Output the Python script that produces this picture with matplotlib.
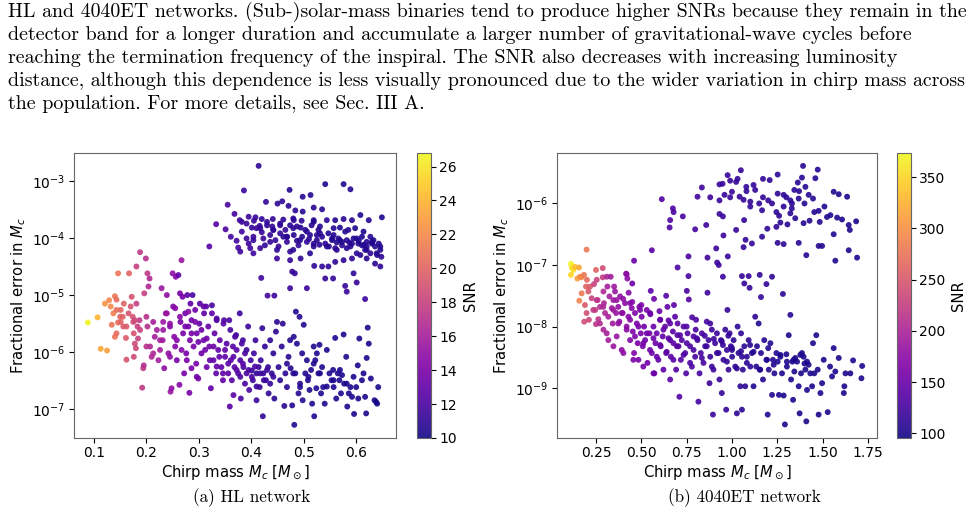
import numpy as np
import matplotlib
matplotlib.use("Agg")
import matplotlib.pyplot as plt
from matplotlib.ticker import NullLocator, MultipleLocator

# ---- paper text around the figure ----
para_lines = [
    "HL and 4040ET networks. (Sub-)solar-mass binaries tend to produce higher SNRs because they remain in the",
    "detector band for a longer duration and accumulate a larger number of gravitational-wave cycles before",
    "reaching the termination frequency of the inspiral. The SNR also decreases with increasing luminosity",
    "distance, although this dependence is less visually pronounced due to the wider variation in chirp mass across",
    "the population. For more details, see Sec. III A.",
]
captions = ["(a) HL network", "(b) 4040ET network"]

# ---- HL network: high-error group (chirp mass, log10 frac. error, SNR) ----
hl_up_mass = [0.414, 0.386, 0.473, 0.541, 0.576, 0.589, 0.498, 0.513, 0.355, 0.428,
              0.450, 0.459, 0.471, 0.484, 0.498, 0.519, 0.535, 0.368, 0.378, 0.395,
              0.408, 0.420, 0.441, 0.461, 0.481, 0.496, 0.519, 0.544, 0.560, 0.576,
              0.592, 0.608, 0.624, 0.649, 0.333, 0.351, 0.361, 0.372, 0.375, 0.379,
              0.391, 0.398, 0.404, 0.410, 0.416, 0.423, 0.426, 0.436, 0.442, 0.446,
              0.452, 0.449, 0.461, 0.465, 0.468, 0.474, 0.481, 0.487, 0.490, 0.497,
              0.503, 0.506, 0.512, 0.519, 0.525, 0.528, 0.535, 0.541, 0.547, 0.554,
              0.560, 0.566, 0.573, 0.579, 0.582, 0.589, 0.595, 0.598, 0.604, 0.611,
              0.617, 0.620, 0.627, 0.633, 0.636, 0.640, 0.643, 0.646, 0.648, 0.646,
              0.636, 0.620, 0.608, 0.592, 0.576, 0.560, 0.547, 0.535, 0.520, 0.541,
              0.556, 0.595, 0.601, 0.582, 0.579, 0.617, 0.506, 0.474, 0.478, 0.483,
              0.419, 0.320, 0.431, 0.444, 0.474, 0.494, 0.417, 0.404, 0.395, 0.382,
              0.401, 0.430, 0.455, 0.474, 0.494, 0.515, 0.531, 0.557, 0.569, 0.585,
              0.614, 0.627, 0.557, 0.525, 0.468, 0.436, 0.569, 0.601, 0.620, 0.587,
              0.605, 0.615, 0.630, 0.563, 0.548, 0.530, 0.510, 0.487, 0.455, 0.440,
              0.420, 0.405, 0.430, 0.442, 0.455, 0.468, 0.480, 0.493, 0.506, 0.519,
              0.531, 0.544, 0.554, 0.563, 0.573, 0.582, 0.592, 0.601, 0.611, 0.620,
              0.630, 0.639, 0.646, 0.417, 0.404, 0.391, 0.382, 0.449, 0.480, 0.512,
              0.480, 0.519]
hl_up_logerr = [-2.74, -3.17, -3.16, -3.06, -3.06, -3.15, -3.28, -3.25, -3.42, -3.37,
                -3.40, -3.36, -3.44, -3.52, -3.54, -3.47, -3.50, -3.58, -3.69, -3.63,
                -3.64, -3.67, -3.67, -3.68, -3.69, -3.70, -3.69, -3.69, -3.69, -3.67,
                -3.69, -3.60, -3.69, -3.64, -3.76, -3.85, -3.98, -4.05, -4.17, -4.24,
                -4.01, -4.18, -4.04, -3.83, -3.79, -4.01, -4.13, -3.95, -3.86, -4.04,
                -4.15, -4.36, -3.98, -3.86, -4.07, -4.24, -3.95, -3.80, -4.13, -3.98,
                -3.86, -4.07, -3.95, -4.15, -4.04, -3.86, -3.98, -4.10, -3.92, -4.04,
                -4.18, -4.01, -4.13, -3.89, -4.04, -4.15, -4.01, -3.83, -4.10, -3.98,
                -4.21, -4.07, -4.27, -4.04, -4.15, -4.30, -4.10, -4.21, -4.33, -4.50,
                -4.45, -4.36, -4.30, -4.36, -4.39, -4.42, -4.50, -4.50, -4.49, -4.71,
                -4.71, -4.62, -4.78, -4.94, -4.84, -5.07, -4.88, -4.88, -4.59, -4.62,
                -4.70, -4.15, -5.01, -5.01, -4.39, -4.36, -4.18, -4.27, -4.10, -3.72,
                -3.82, -3.78, -3.75, -3.78, -3.82, -3.78, -3.80, -3.83, -3.82, -3.86,
                -3.89, -3.98, -3.95, -3.95, -3.98, -4.07, -4.04, -4.01, -4.15, -4.08,
                -4.05, -4.12, -4.10, -4.08, -4.15, -4.12, -4.02, -4.05, -3.92, -3.80,
                -3.90, -3.70, -3.72, -3.86, -3.78, -3.98, -3.83, -4.04, -3.89, -4.10,
                -3.92, -4.15, -4.01, -4.21, -4.07, -4.18, -4.10, -4.27, -4.13, -4.21,
                -4.07, -4.27, -4.15, -3.83, -3.98, -3.75, -3.89, -4.21, -4.21, -4.27,
                -3.66, -3.72]
hl_up_snr = [11.0, 11.3, 10.6, 10.5, 10.4, 10.6, 10.8, 10.7, 12.0, 11.2,
             10.9, 11.1, 10.8, 10.9, 10.7, 10.8, 10.6, 11.8, 11.5, 11.4,
             11.3, 11.0, 11.2, 10.9, 11.1, 10.8, 10.7, 10.9, 10.6, 10.8,
             10.7, 10.5, 10.6, 10.4, 12.3, 12.0, 11.8, 11.6, 11.9, 11.5,
             11.4, 11.6, 11.2, 11.3, 11.1, 11.4, 11.0, 11.2, 10.9, 11.1,
             11.3, 11.5, 10.9, 11.0, 11.2, 11.0, 10.8, 10.9, 11.1, 10.7,
             10.8, 11.0, 10.6, 10.9, 10.7, 10.6, 10.8, 10.9, 10.5, 10.7,
             10.9, 10.6, 10.8, 10.5, 10.6, 10.8, 10.5, 10.4, 10.7, 10.5,
             10.8, 10.6, 10.9, 10.4, 10.6, 10.8, 10.5, 10.7, 10.9, 11.0,
             10.9, 10.8, 10.7, 10.9, 10.8, 10.9, 11.0, 11.1, 11.0, 11.2,
             11.1, 11.0, 11.2, 11.3, 11.2, 11.4, 11.3, 11.4, 11.2, 11.1,
             11.6, 12.5, 11.8, 11.6, 11.3, 11.1, 11.4, 11.6, 11.5, 11.4,
             11.2, 11.0, 10.9, 10.8, 10.7, 10.8, 10.6, 10.7, 10.5, 10.6,
             10.4, 10.6, 10.7, 10.8, 10.9, 11.1, 10.7, 10.5, 10.7, 10.6,
             10.5, 10.7, 10.4, 10.6, 10.8, 10.7, 10.9, 10.8, 11.0, 11.1,
             11.2, 11.3, 11.0, 10.9, 11.1, 10.8, 10.9, 10.7, 10.8, 10.6,
             10.8, 10.7, 10.6, 10.8, 10.5, 10.7, 10.6, 10.8, 10.5, 10.7,
             10.4, 10.6, 10.5, 11.2, 11.4, 11.5, 11.6, 11.0, 10.9, 10.7,
             10.8, 10.6]

# ---- HL network: main group ----
hl_low_mass = [0.0885, 0.107, 0.113, 0.125, 0.121, 0.129, 0.132, 0.137, 0.134, 0.140,
               0.143, 0.146, 0.140, 0.143, 0.146, 0.151, 0.151, 0.155, 0.157, 0.162,
               0.161, 0.162, 0.167, 0.170, 0.172, 0.174, 0.175, 0.176, 0.178, 0.176,
               0.180, 0.181, 0.181, 0.183, 0.188, 0.184, 0.187, 0.192, 0.194, 0.195,
               0.196, 0.199, 0.202, 0.202, 0.200, 0.204, 0.206, 0.207, 0.210, 0.213,
               0.216, 0.220, 0.223, 0.226, 0.229, 0.231, 0.232, 0.234, 0.237, 0.239,
               0.242, 0.245, 0.246, 0.248, 0.250, 0.251, 0.253, 0.255, 0.256, 0.258,
               0.261, 0.263, 0.264, 0.265, 0.267, 0.269, 0.270, 0.272, 0.274, 0.276,
               0.278, 0.280, 0.282, 0.283, 0.284, 0.286, 0.288, 0.290, 0.293, 0.295,
               0.296, 0.299, 0.301, 0.302, 0.305, 0.309, 0.310, 0.314, 0.315, 0.318,
               0.320, 0.323, 0.325, 0.328, 0.330, 0.333, 0.334, 0.337, 0.340, 0.343,
               0.346, 0.348, 0.350, 0.353, 0.356, 0.358, 0.359, 0.361, 0.365, 0.366,
               0.368, 0.371, 0.372, 0.375, 0.378, 0.379, 0.380, 0.384, 0.385, 0.388,
               0.391, 0.394, 0.396, 0.399, 0.401, 0.403, 0.405, 0.408, 0.410, 0.410,
               0.414, 0.416, 0.418, 0.421, 0.423, 0.422, 0.426, 0.428, 0.432, 0.433,
               0.436, 0.439, 0.442, 0.444, 0.447, 0.449, 0.452, 0.455, 0.458, 0.460,
               0.463, 0.465, 0.468, 0.471, 0.474, 0.475, 0.478, 0.481, 0.482, 0.484,
               0.485, 0.487, 0.490, 0.492, 0.493, 0.497, 0.498, 0.500, 0.503, 0.506,
               0.508, 0.511, 0.514, 0.516, 0.519, 0.520, 0.522, 0.524, 0.525, 0.528,
               0.530, 0.533, 0.535, 0.537, 0.540, 0.544, 0.549, 0.553, 0.556, 0.557,
               0.560, 0.562, 0.565, 0.568, 0.571, 0.573, 0.576, 0.577, 0.581, 0.583,
               0.586, 0.589, 0.592, 0.596, 0.600, 0.603, 0.604, 0.606, 0.611, 0.614,
               0.617, 0.619, 0.620, 0.622, 0.624, 0.628, 0.635, 0.638, 0.640, 0.642]
hl_low_logerr = [-5.48, -5.39, -5.94, -5.97, -5.15, -5.09, -5.20, -5.32, -5.52, -5.02,
                 -5.08, -4.62, -5.73, -5.67, -5.48, -5.47, -5.26, -5.38, -5.15, -5.55,
                 -5.75, -6.13, -4.62, -5.20, -5.03, -5.38, -5.47, -5.67, -5.85, -6.08,
                 -5.93, -4.50, -5.15, -5.55, -4.25, -5.76, -5.44, -6.62, -6.28, -6.23,
                 -4.97, -4.36, -4.62, -5.55, -5.38, -4.85, -4.71, -5.90, -6.08, -5.47,
                 -5.73, -5.61, -6.14, -5.96, -4.88, -5.79, -5.47, -6.28, -5.32, -5.00,
                 -6.02, -5.55, -6.69, -6.63, -4.62, -5.20, -5.73, -5.90, -4.68, -6.14,
                 -4.65, -6.57, -4.97, -5.47, -4.39, -5.03, -5.67, -6.37, -5.32, -6.02,
                 -5.00, -5.55, -6.71, -5.79, -5.15, -5.44, -5.00, -5.90, -5.26, -6.20,
                 -5.67, -6.46, -5.50, -5.15, -6.02, -5.79, -5.32, -5.20, -6.26, -5.55,
                 -5.90, -6.63, -5.18, -6.14, -5.67, -6.37, -5.44, -5.96, -5.79, -6.26,
                 -6.49, -5.44, -6.08, -5.85, -6.37, -5.44, -6.95, -6.14, -5.90, -6.75,
                 -6.26, -5.70, -5.96, -6.37, -5.32, -6.14, -6.81, -5.79, -6.26, -6.02,
                 -6.37, -5.55, -6.66, -6.14, -6.32, -6.49, -6.02, -5.79, -6.84, -6.37,
                 -6.26, -6.61, -6.14, -5.58, -6.37, -7.12, -5.90, -6.49, -6.26, -6.72,
                 -5.79, -6.37, -6.02, -6.81, -5.64, -5.47, -6.26, -6.49, -5.90, -5.50,
                 -6.94, -6.37, -6.61, -6.08, -5.79, -6.28, -6.93, -5.73, -7.27, -6.37,
                 -5.29, -5.85, -6.72, -5.38, -6.61, -6.02, -6.84, -5.52, -6.37, -6.14,
                 -6.49, -6.66, -6.31, -6.90, -5.90, -7.12, -6.14, -6.63, -6.02, -6.37,
                 -5.87, -6.72, -6.26, -6.61, -6.90, -5.96, -6.37, -6.49, -6.31, -6.61,
                 -5.75, -6.81, -6.37, -6.49, -6.72, -6.40, -5.69, -6.55, -6.08, -6.95,
                 -6.72, -6.61, -6.78, -7.08, -6.61, -6.23, -6.81, -5.76, -6.49, -6.37,
                 -6.78, -7.07, -6.10, -5.57, -5.85, -6.46, -6.84, -6.87, -6.90, -6.61]
hl_low_snr = [26.5, 24.0, 23.5, 23.0, 22.5, 22.0, 22.0, 21.5, 21.0, 21.0,
              20.5, 21.0, 21.0, 20.5, 20.5, 20.0, 20.0, 20.0, 20.0, 19.5,
              19.5, 19.0, 20.0, 19.0, 19.0, 19.0, 18.5, 19.0, 18.5, 18.5,
              18.5, 18.0, 18.0, 18.0, 17.5, 18.0, 17.5, 17.5, 17.5, 17.0,
              18.0, 17.0, 17.5, 17.0, 17.0, 16.5, 16.5, 16.5, 16.5, 16.0,
              16.0, 16.0, 16.0, 16.0, 15.5, 15.5, 15.5, 15.0, 15.0, 15.0,
              15.0, 14.5, 15.5, 15.0, 15.0, 14.5, 14.5, 14.5, 14.5, 14.0,
              13.0, 14.5, 14.0, 14.0, 15.5, 14.0, 14.0, 14.0, 13.5, 14.0,
              12.5, 13.5, 14.0, 14.0, 13.0, 13.5, 12.0, 14.0, 13.5, 14.0,
              13.5, 14.0, 13.0, 12.5, 13.5, 13.5, 13.0, 12.5, 13.5, 13.0,
              13.5, 13.0, 12.0, 13.0, 13.0, 13.0, 12.0, 13.0, 13.0, 13.0,
              13.0, 12.0, 13.0, 12.5, 12.5, 12.0, 12.5, 12.5, 12.5, 12.5,
              12.5, 11.5, 12.5, 12.0, 11.5, 12.0, 12.0, 11.5, 12.0, 12.0,
              12.0, 11.5, 12.0, 11.5, 11.5, 11.5, 11.5, 11.5, 11.5, 11.2,
              11.2, 11.2, 11.2, 11.0, 11.2, 11.2, 11.0, 11.2, 11.0, 11.0,
              11.0, 10.8, 10.8, 10.8, 10.8, 10.8, 10.8, 10.8, 10.8, 10.8,
              10.8, 10.8, 10.8, 10.8, 10.6, 10.6, 10.6, 10.6, 10.6, 10.6,
              10.6, 10.6, 10.6, 10.6, 10.6, 10.6, 10.6, 10.6, 10.5, 10.5,
              10.5, 10.5, 10.5, 10.5, 10.5, 10.5, 10.5, 10.5, 10.5, 10.5,
              10.5, 10.5, 10.5, 10.5, 10.5, 10.4, 10.4, 10.4, 10.4, 10.4,
              10.4, 10.4, 10.4, 10.4, 10.4, 10.4, 10.4, 10.4, 10.4, 10.4,
              10.3, 10.3, 10.3, 10.3, 10.3, 10.3, 10.3, 10.3, 10.3, 10.3,
              10.3, 10.3, 10.3, 10.3, 10.3, 10.3, 10.2, 10.2, 10.2, 10.2]

# ---- HL network: densest part of the main group ----
hl_core_mass = [0.239, 0.245, 0.255, 0.264, 0.274, 0.280, 0.286, 0.293, 0.299, 0.305,
                0.312, 0.315, 0.321, 0.328, 0.334, 0.339, 0.346, 0.350, 0.356, 0.363,
                0.366, 0.372, 0.379, 0.384, 0.388, 0.395, 0.401, 0.407, 0.410, 0.417,
                0.424, 0.430, 0.436, 0.442, 0.258, 0.267, 0.277, 0.286, 0.296, 0.245,
                0.226, 0.213, 0.232, 0.200, 0.188, 0.178, 0.166, 0.156, 0.143, 0.150,
                0.309, 0.325, 0.334, 0.347, 0.360, 0.369, 0.382, 0.391, 0.468, 0.480,
                0.493, 0.509, 0.519, 0.531, 0.544, 0.557, 0.569, 0.582, 0.595]
hl_core_logerr = [-5.32, -5.50, -5.23, -5.38, -5.55, -5.29, -5.67, -5.47, -5.82, -5.61,
                  -5.96, -5.76, -6.14, -5.90, -6.25, -6.08, -6.37, -5.96, -6.20, -6.49,
                  -6.08, -6.31, -6.43, -6.20, -6.55, -6.31, -6.43, -6.25, -6.60, -6.37,
                  -6.49, -6.31, -6.55, -6.43, -5.79, -5.96, -6.14, -6.28, -6.43, -6.08,
                  -5.79, -6.02, -5.61, -5.90, -5.61, -5.44, -5.32, -5.55, -5.26, -5.38,
                  -5.20, -5.32, -5.41, -5.50, -5.61, -5.73, -5.85, -5.96, -6.20, -6.37,
                  -6.55, -6.43, -6.20, -6.37, -6.60, -6.49, -6.31, -6.55, -6.43]
hl_core_snr = [15.5, 15.0, 14.5, 14.5, 14.0, 14.5, 14.0, 14.0, 13.5, 13.5,
               13.5, 13.5, 13.0, 13.5, 13.0, 13.0, 13.0, 13.0, 12.5, 12.5,
               12.5, 12.5, 12.0, 12.5, 12.0, 12.0, 12.0, 12.0, 11.5, 11.5,
               11.5, 11.5, 11.2, 11.2, 14.5, 14.5, 14.0, 14.0, 13.5, 15.0,
               16.0, 16.5, 15.5, 17.0, 18.0, 18.5, 19.0, 19.5, 20.5, 20.0,
               13.0, 13.0, 12.5, 12.5, 12.0, 12.0, 12.0, 11.5, 10.8, 10.7,
               10.6, 10.5, 10.5, 10.5, 10.4, 10.4, 10.4, 10.3, 10.3]

# ---- 4040ET network: high-error group ----
et_up_mass = [1.392, 1.473, 1.049, 0.976, 1.252, 1.171, 1.208, 1.386, 1.460, 0.931,
              0.948, 0.990, 1.023, 1.031, 1.079, 1.119, 1.128, 0.834, 1.363, 1.344,
              1.405, 1.561, 1.589, 1.635, 0.613, 0.810, 0.880, 0.931, 0.959, 1.000,
              1.042, 1.064, 1.101, 1.171, 1.252, 1.285, 1.322, 1.368, 1.423, 1.447,
              0.674, 0.678, 0.729, 0.659, 0.656, 0.797, 0.858, 0.931, 0.950, 0.953,
              1.023, 1.067, 1.101, 1.166, 1.221, 1.245, 1.285, 1.331, 1.322, 1.349,
              1.395, 1.428, 1.454, 1.478, 1.484, 1.524, 1.543, 1.580, 1.607, 1.644,
              1.650, 1.685, 1.245, 1.267, 1.306, 1.195, 1.166, 1.075, 1.064, 1.110,
              1.252, 1.285, 1.368, 1.410, 1.478, 1.497, 1.561, 1.644, 1.570, 1.690,
              0.977, 0.913, 0.865, 0.918, 0.927, 1.055, 1.092, 1.097, 1.153, 1.190,
              1.221, 1.068, 0.950, 0.760, 0.700, 0.760, 0.558, 0.460, 0.419, 0.450,
              1.281, 1.160, 0.865, 0.751, 0.552, 0.637, 1.322, 0.198, 1.200, 1.300,
              1.330, 1.400, 1.150, 1.080, 0.990, 1.370, 1.260, 1.510]
et_up_logerr = [-5.39, -5.45, -5.46, -5.54, -5.53, -5.60, -5.62, -5.58, -5.59, -5.69,
                -5.68, -5.63, -5.65, -5.60, -5.73, -5.70, -5.78, -5.74, -5.66, -5.78,
                -5.73, -5.81, -5.85, -5.89, -5.93, -5.89, -5.90, -5.95, -5.86, -5.81,
                -5.89, -5.94, -5.97, -5.90, -5.84, -5.86, -5.95, -5.92, -5.86, -5.92,
                -6.08, -6.14, -6.21, -6.27, -6.39, -6.42, -6.35, -6.17, -6.21, -6.52,
                -6.43, -6.27, -6.05, -6.11, -6.00, -6.14, -6.05, -6.00, -6.16, -6.24,
                -6.32, -6.28, -6.14, -6.12, -6.30, -6.22, -6.19, -6.23, -6.26, -6.35,
                -6.43, -6.29, -6.38, -6.31, -6.34, -6.41, -6.54, -6.59, -6.71, -6.65,
                -6.64, -6.66, -6.64, -6.84, -6.69, -6.69, -6.50, -6.76, -6.93, -6.88,
                -6.86, -6.73, -6.88, -6.96, -7.00, -7.18, -7.18, -7.37, -7.16, -7.31,
                -7.19, -7.30, -7.19, -7.18, -7.04, -6.86, -6.76, -6.93, -7.15, -7.30,
                -7.47, -7.52, -7.45, -7.42, -7.42, -7.50, -7.81, -6.75, -5.95, -5.90,
                -6.08, -6.00, -6.00, -5.80, -5.90, -5.80, -6.20, -6.05]
et_up_snr = [108, 106, 115, 118, 110, 112, 111, 108, 106, 119,
             118, 117, 116, 116, 114, 113, 113, 122, 108, 109,
             107, 104, 103, 102, 135, 123, 121, 119, 118, 117,
             115, 115, 114, 112, 110, 110, 109, 108, 107, 106,
             132, 131, 128, 133, 133, 124, 121, 119, 118, 118,
             116, 114, 113, 112, 111, 110, 110, 109, 109, 108,
             107, 107, 106, 106, 105, 105, 104, 104, 103, 102,
             102, 101, 110, 110, 109, 111, 112, 114, 115, 113,
             110, 110, 108, 107, 105, 105, 104, 102, 104, 101,
             118, 120, 121, 120, 120, 116, 115, 115, 113, 112,
             111, 115, 118, 127, 130, 127, 140, 150, 160, 155,
             110, 113, 122, 128, 142, 136, 109, 280, 111, 109,
             109, 107, 112, 114, 117, 108, 110, 105]

# ---- 4040ET network: main group ----
et_low_mass = [0.112, 0.116, 0.125, 0.112, 0.134, 0.156, 0.147, 0.161, 0.170, 0.184,
               0.158, 0.171, 0.195, 0.200, 0.208, 0.217, 0.189, 0.198, 0.185, 0.211,
               0.226, 0.239, 0.250, 0.254, 0.259, 0.246, 0.250, 0.263, 0.272, 0.287,
               0.287, 0.291, 0.294, 0.291, 0.300, 0.309, 0.313, 0.318, 0.324, 0.331,
               0.337, 0.342, 0.346, 0.355, 0.361, 0.364, 0.373, 0.379, 0.383, 0.392,
               0.397, 0.410, 0.416, 0.419, 0.423, 0.429, 0.438, 0.447, 0.453, 0.460,
               0.465, 0.475, 0.480, 0.484, 0.489, 0.497, 0.502, 0.508, 0.515, 0.521,
               0.530, 0.534, 0.545, 0.558, 0.567, 0.572, 0.578, 0.585, 0.594, 0.604,
               0.607, 0.618, 0.622, 0.631, 0.637, 0.644, 0.650, 0.659, 0.663, 0.674,
               0.677, 0.686, 0.692, 0.699, 0.705, 0.710, 0.718, 0.723, 0.733, 0.742,
               0.747, 0.755, 0.762, 0.769, 0.779, 0.788, 0.797, 0.802, 0.810, 0.815,
               0.821, 0.828, 0.834, 0.843, 0.852, 0.861, 0.871, 0.876, 0.880, 0.889,
               0.895, 0.898, 0.907, 0.917, 0.926, 0.931, 0.939, 0.944, 0.953, 0.963,
               0.968, 0.972, 0.975, 0.981, 0.987, 0.994, 1.001, 1.009, 1.018, 1.027,
               1.031, 1.036, 1.046, 1.050, 1.055, 1.060, 1.068, 1.073, 1.082, 1.092,
               1.101, 1.110, 1.119, 1.128, 1.134, 1.138, 1.147, 1.153, 1.160, 1.171,
               1.178, 1.190, 1.197, 1.203, 1.212, 1.221, 1.226, 1.234, 1.245, 1.252,
               1.259, 1.267, 1.276, 1.285, 1.292, 1.303, 1.313, 1.326, 1.333, 1.337,
               1.344, 1.349, 1.359, 1.368, 1.373, 1.381, 1.386, 1.395, 1.405, 1.410,
               1.414, 1.423, 1.432, 1.442, 1.447, 1.454, 1.465, 1.473, 1.478, 1.488,
               1.497, 1.506, 1.528, 1.541, 1.552, 1.561, 1.570, 1.589, 1.617, 1.620,
               1.626, 1.653, 1.668, 1.718, 1.714, 0.400, 0.450, 0.500, 0.550, 0.600,
               0.650, 0.700, 0.750, 0.800, 0.850, 0.900, 0.950, 1.000, 1.050, 1.100,
               0.350, 0.430, 0.570, 0.680, 0.780, 0.880, 0.980, 1.200, 1.300, 1.400]
et_low_logerr = [-6.98, -7.04, -7.08, -7.16, -7.03, -7.04, -7.22, -7.19, -7.20, -7.16,
                 -7.58, -7.46, -7.35, -7.24, -7.43, -7.35, -7.65, -7.78, -7.92, -7.89,
                 -7.54, -7.31, -7.08, -7.24, -7.57, -7.73, -7.96, -7.88, -7.68, -7.05,
                 -7.20, -7.43, -7.62, -8.05, -7.78, -7.19, -7.35, -8.22, -7.51, -7.19,
                 -7.70, -7.95, -7.57, -7.43, -7.78, -8.16, -7.68, -7.92, -7.51, -8.38,
                 -7.78, -7.62, -7.14, -8.00, -7.22, -7.84, -8.22, -7.70, -8.08, -8.43,
                 -7.78, -7.95, -8.27, -8.54, -7.68, -8.11, -7.84, -8.32, -8.00, -8.22,
                 -7.73, -8.59, -8.11, -8.43, -8.00, -8.76, -8.27, -8.11, -8.54, -7.89,
                 -8.32, -8.16, -8.70, -8.00, -8.43, -7.68, -8.19, -8.86, -8.49, -8.08,
                 -8.27, -7.84, -8.70, -8.14, -8.32, -9.14, -8.54, -8.22, -8.00, -8.43,
                 -8.76, -8.11, -7.56, -8.32, -8.65, -8.16, -8.49, -7.89, -8.22, -9.22,
                 -8.76, -8.43, -8.11, -8.59, -8.32, -7.92, -8.22, -8.92, -8.49, -8.05,
                 -9.43, -8.70, -8.27, -8.11, -8.43, -8.86, -8.22, -9.08, -8.54, -8.05,
                 -9.35, -8.38, -7.73, -8.70, -8.11, -8.32, -8.49, -8.22, -8.65, -9.41,
                 -8.00, -8.43, -8.97, -8.11, -9.35, -8.70, -8.32, -8.97, -8.49, -8.22,
                 -8.65, -8.43, -8.97, -7.84, -8.65, -8.32, -7.95, -8.70, -8.43, -8.86,
                 -8.22, -8.54, -9.43, -8.70, -8.27, -9.11, -8.54, -8.76, -8.43, -8.57,
                 -9.11, -8.46, -8.76, -9.12, -9.59, -8.57, -8.14, -8.86, -8.57, -9.19,
                 -8.73, -8.51, -8.57, -8.97, -9.41, -8.76, -8.43, -8.49, -8.70, -9.54,
                 -9.03, -8.62, -8.76, -8.97, -8.27, -8.76, -8.14, -8.70, -9.43, -9.08,
                 -8.92, -8.54, -9.39, -8.65, -8.81, -8.35, -8.73, -8.51, -9.08, -8.97,
                 -8.76, -8.76, -8.55, -8.64, -8.84, -7.55, -7.60, -7.65, -7.80, -7.75,
                 -7.90, -7.95, -8.00, -8.05, -8.15, -8.20, -8.30, -8.35, -8.40, -8.30,
                 -7.35, -7.45, -7.55, -7.65, -7.85, -7.95, -8.15, -8.35, -8.45, -8.60]
et_low_snr = [370, 360, 355, 350, 335, 320, 310, 300, 295, 280,
              290, 280, 260, 265, 250, 250, 250, 240, 240, 235,
              230, 230, 260, 230, 220, 225, 215, 215, 210, 240,
              225, 205, 200, 200, 200, 200, 195, 195, 195, 190,
              190, 190, 185, 185, 185, 185, 180, 180, 180, 175,
              175, 175, 180, 175, 175, 170, 170, 170, 165, 165,
              165, 165, 160, 160, 165, 160, 160, 160, 155, 155,
              160, 155, 155, 150, 150, 150, 150, 150, 145, 150,
              145, 145, 145, 145, 140, 145, 140, 140, 140, 140,
              140, 140, 135, 135, 135, 135, 135, 135, 135, 130,
              130, 130, 135, 130, 130, 130, 125, 130, 125, 125,
              125, 125, 125, 125, 120, 125, 120, 120, 120, 120,
              120, 120, 120, 120, 115, 115, 115, 115, 115, 115,
              115, 115, 115, 115, 115, 115, 110, 110, 110, 110,
              110, 110, 110, 110, 110, 110, 110, 110, 110, 110,
              110, 105, 105, 110, 105, 105, 105, 105, 105, 105,
              105, 105, 105, 105, 105, 105, 105, 105, 105, 105,
              105, 100, 100, 100, 100, 100, 100, 100, 100, 100,
              100, 100, 100, 100, 100, 100, 100, 100, 100, 100,
              100, 100, 100, 100, 100, 100, 100, 100, 100, 100,
              100, 100, 100, 100, 100, 100, 100, 100, 100, 100,
              100, 100, 100, 100, 100, 178, 170, 162, 155, 150,
              143, 138, 132, 128, 123, 119, 116, 112, 109, 107,
              188, 172, 152, 140, 129, 121, 114, 105, 101, 100]

# ---- 4040ET network: densest part of the main group ----
et_core_mass = [0.290, 0.318, 0.346, 0.373, 0.392, 0.419, 0.438, 0.465, 0.484, 0.511,
                0.530, 0.548, 0.567, 0.585, 0.604, 0.622, 0.640, 0.659, 0.677, 0.696,
                0.714, 0.733, 0.751, 0.769, 0.788, 0.806, 0.834, 0.861, 0.889, 0.917,
                0.944, 0.972, 1.000, 1.027, 1.055, 1.082, 1.119, 1.156, 1.193, 1.230,
                1.267, 1.303, 1.340, 1.377, 1.414, 0.364, 0.438, 0.493, 0.548, 0.604,
                0.659, 0.254, 0.235, 0.272, 0.309, 0.346, 0.401, 0.456, 0.511, 0.567]
et_core_logerr = [-7.68, -7.84, -7.73, -7.95, -7.78, -8.05, -7.89, -8.16, -8.00, -8.27,
                  -8.11, -8.38, -8.19, -8.49, -8.30, -8.05, -8.41, -8.22, -8.54, -8.32,
                  -8.14, -8.46, -8.27, -8.59, -8.38, -8.19, -8.51, -8.32, -8.65, -8.43,
                  -8.24, -8.57, -8.38, -8.68, -8.49, -8.59, -8.41, -8.70, -8.54, -8.62,
                  -8.49, -8.65, -8.54, -8.46, -8.57, -7.57, -7.62, -7.73, -7.78, -7.89,
                  -7.95, -7.57, -7.73, -7.95, -8.11, -8.32, -8.43, -8.54, -8.65, -8.76]
et_core_snr = [200, 195, 188, 182, 178, 174, 170, 165, 162, 158,
               156, 153, 151, 149, 148, 145, 143, 141, 139, 137,
               135, 133, 131, 129, 128, 126, 123, 121, 119, 118,
               116, 114, 112, 111, 110, 109, 107, 106, 105, 104,
               102, 101, 100, 100, 100, 185, 170, 162, 153, 148,
               142, 215, 222, 208, 196, 186, 176, 166, 158, 150]


def panel(fig, ax_rect, cb_rect, mass, logerr, snr, xlim, xstep, ylim, clim):
    ax = fig.add_axes(ax_rect)
    cax = fig.add_axes(cb_rect)
    sc = ax.scatter(mass, 10 ** np.array(logerr), c=snr, cmap="plasma",
                    vmin=clim[0], vmax=clim[1], s=18, alpha=0.9,
                    edgecolors="none")
    ax.set_yscale("log")
    ax.set_xlim(*xlim)
    ax.xaxis.set_major_locator(MultipleLocator(xstep))
    ax.set_ylim(10 ** ylim[0], 10 ** ylim[1])
    ax.yaxis.set_minor_locator(NullLocator())
    ax.set_xlabel(r"Chirp mass $M_c$ [$M_\odot$]", fontsize=10.6, labelpad=2)
    ax.set_ylabel(r"Fractional error in $M_c$", fontsize=10.6, labelpad=3)
    ax.tick_params(labelsize=10, pad=2.5)
    for sp in ax.spines.values():
        sp.set_color("#666666")
    cb = fig.colorbar(sc, cax=cax)
    cb.set_label("SNR", fontsize=10.6)
    cb.ax.tick_params(labelsize=10, pad=2.5)
    cb.outline.set_edgecolor("#666666")
    return ax


fig = plt.figure(figsize=(9.75, 5.19), dpi=100)

panel(fig, [0.0759, 0.1561, 0.3303, 0.5491], [0.4277, 0.1561, 0.0144, 0.5491],
      hl_up_mass + hl_low_mass + hl_core_mass,
      hl_up_logerr + hl_low_logerr + hl_core_logerr,
      hl_up_snr + hl_low_snr + hl_core_snr,
      (0.062, 0.676), 0.1, (-7.50, -2.515), (10.0, 26.8))
panel(fig, [0.5713, 0.1561, 0.3282, 0.5491], [0.9200, 0.1561, 0.0144, 0.5491],
      et_up_mass + et_low_mass + et_core_mass,
      et_up_logerr + et_low_logerr + et_core_logerr,
      et_up_snr + et_low_snr + et_core_snr,
      (0.035, 1.80), 0.25, (-9.81, -5.18), (95.4, 373.7))

# paragraph text in a Computer Modern face, first line fitted to the text width
W, H = 975, 519
renderer = fig.canvas.get_renderer()
probe = fig.text(8 / W, 0.5, para_lines[0], fontsize=12, family="cmr10")
w = probe.get_window_extent(renderer).width
probe.remove()
fs = 12 * 960 / w
for i, line in enumerate(para_lines):
    fig.text(8 / W, 1 - (12 + 23 * i) / H, line, fontsize=fs, family="cmr10",
             va="center", ha="left")
fig.text(252 / W, 1 - 498 / H, captions[0], fontsize=fs * 0.86, family="cmr10",
         va="center", ha="center")
fig.text(744 / W, 1 - 498 / H, captions[1], fontsize=fs * 0.86, family="cmr10",
         va="center", ha="center")

fig.savefig("out.png", dpi=100)
